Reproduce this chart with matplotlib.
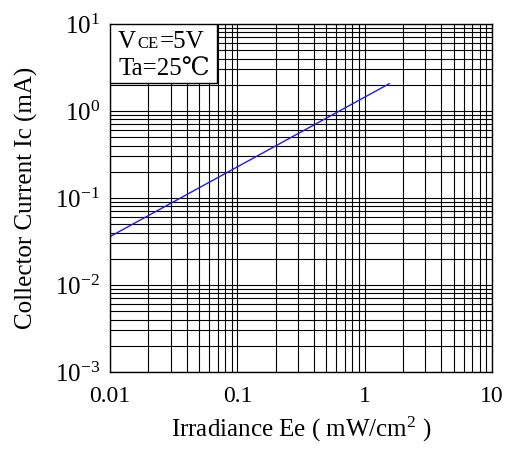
import numpy as np
import matplotlib
matplotlib.use("Agg")
import matplotlib.pyplot as plt
from matplotlib.patches import Rectangle
from matplotlib.ticker import LogLocator, FixedLocator, NullFormatter

plt.rcParams.update({
    'font.family': ['Liberation Serif', 'DejaVu Serif'],
    'mathtext.fontset': 'custom',
    'mathtext.rm': 'Liberation Serif',
    'mathtext.it': 'Liberation Serif',
    'font.size': 17,
})

# data (straight line on log-log)
irradiance = [0.01, 1.56]
current = [0.036, 2.06]

x_ticks = [0.01, 0.1, 1, 10]
x_labels = ["0.01", "0.1", "1", "10"]
y_exps = [-3, -2, -1, 0, 1]

fig = plt.figure(figsize=(5.06, 4.5), dpi=100)
ax = fig.add_axes([110/506, 1-372/450, 382/506, 348/450])

ax.set_xscale('log')
ax.set_yscale('log')
ax.set_xlim(0.01, 10)
ax.set_ylim(1e-3, 10)

ax.plot(irradiance, current, color='#1a1aff', lw=1.0, zorder=2)

ax.xaxis.set_major_locator(FixedLocator(x_ticks))
ax.set_xticklabels(x_labels)
ax.yaxis.set_major_locator(FixedLocator([10.0**e for e in y_exps]))
ax.set_yticklabels([r"$\mathregular{10^{%d}}$" % e for e in y_exps])
for a in (ax.xaxis, ax.yaxis):
    a.set_minor_locator(LogLocator(base=10, subs=np.arange(2, 10)))
    a.set_minor_formatter(NullFormatter())

ax.grid(True, which='both', color='black', lw=0.8)
ax.tick_params(which='both', direction='in', length=0)
ax.tick_params(axis='x', pad=10, labelsize=17)
ax.tick_params(axis='y', pad=7, labelsize=18)
for s in ax.spines.values():
    s.set_color('black')
    s.set_linewidth(1.0)

# white box with the test conditions, covering the grid
ax.add_patch(Rectangle((0, 1-0.17), 0.28, 0.17, transform=ax.transAxes,
                       facecolor='white', edgecolor='black', lw=1.0, zorder=3))
tv = ax.text(0.021, 0.931, "V", transform=ax.transAxes,
             va='baseline', ha='left', fontsize=18, zorder=4)
t5 = ax.text(0.80, 0.931, "=5V", transform=ax.transAxes,
             va='baseline', ha='left', fontsize=18, zorder=4)
ax.text(0.021, 0.851, "Ta=25℃", transform=ax.transAxes,
        va='baseline', ha='left', fontsize=18, zorder=4)

ax.set_xlabel(r"Irradiance Ee ( mW/cm$\mathregular{^{2}}$ )", fontsize=18, labelpad=6)
ax.set_ylabel("Collector Current Ic (mA)", fontsize=18, labelpad=12)

# small-cap "CE" sitting on the baseline right after "V"
fig.canvas.draw()
inv = ax.transAxes.inverted()
bb = tv.get_window_extent()
tce = ax.text(inv.transform((bb.x1 + 1, 0))[0], 0.931, "CE", transform=ax.transAxes,
              va='baseline', ha='left', fontsize=12, zorder=4)
fig.canvas.draw()
bb2 = tce.get_window_extent()
t5.set_x(inv.transform((bb2.x1 + 2, 0))[0])

fig.savefig("out.png", dpi=100)
